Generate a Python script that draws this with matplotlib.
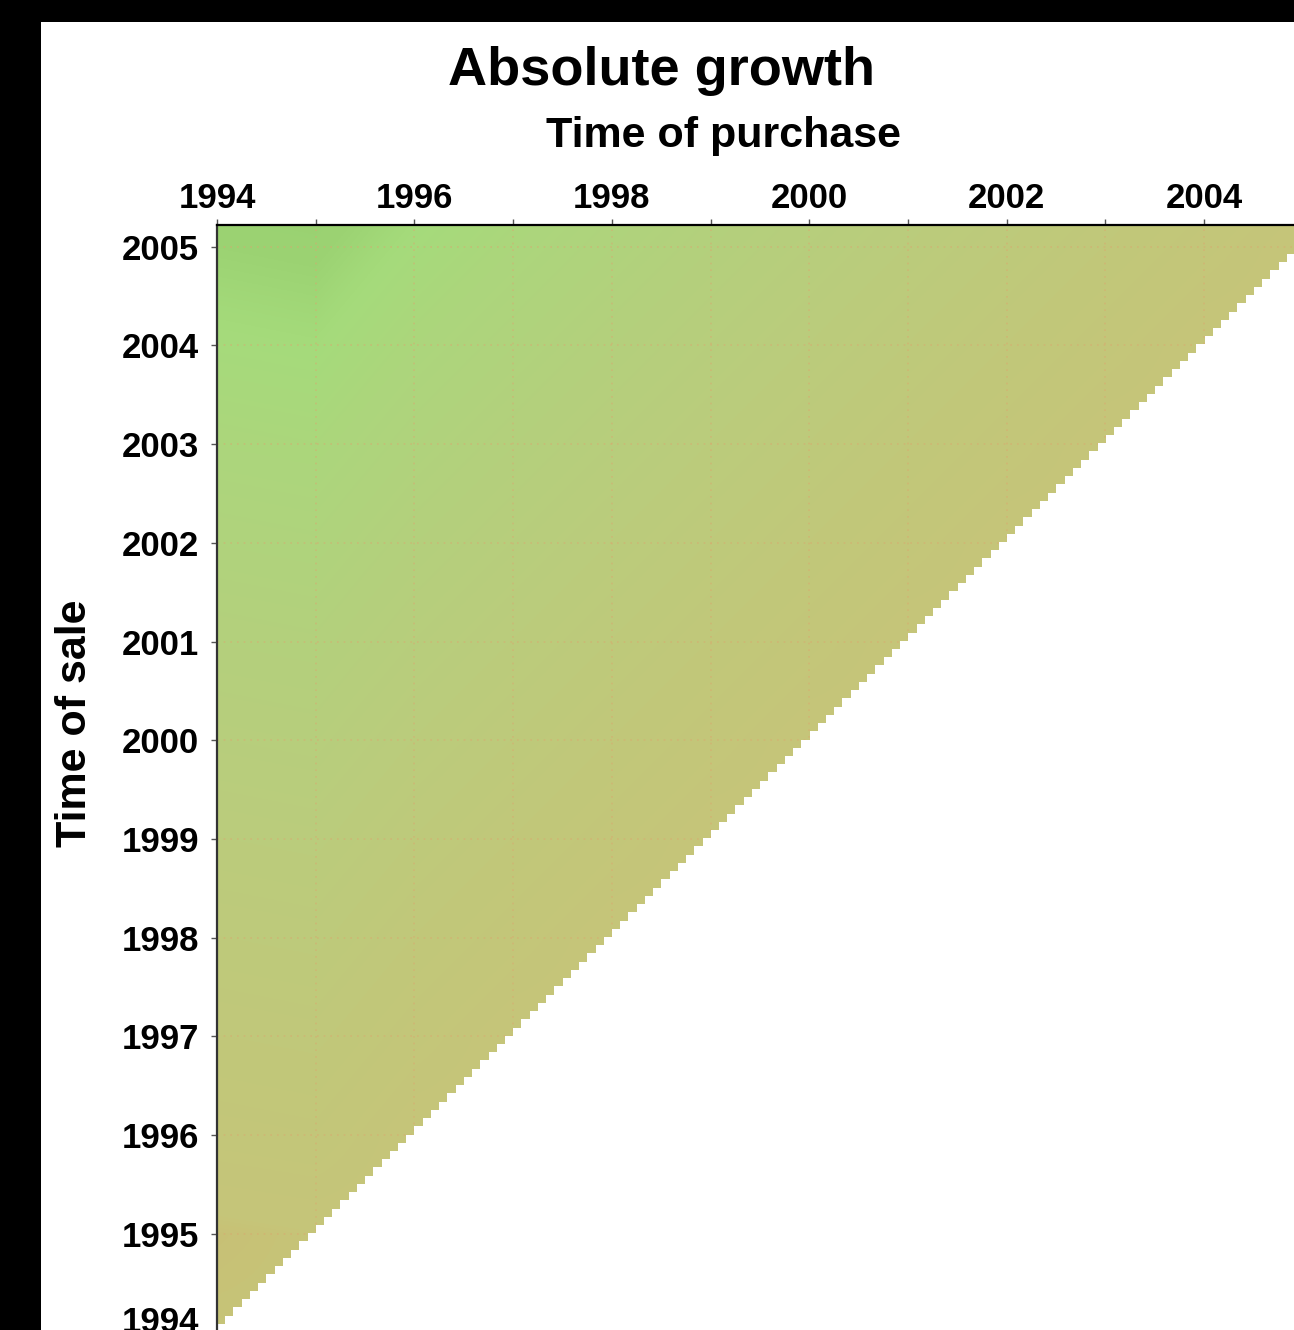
"""
Absolute growth between time of purchase and time of sale,
shown as an upper-triangle heat map on a monthly grid.
Outputs: out.png
"""

import numpy as np
import matplotlib.pyplot as plt
from matplotlib.colors import LinearSegmentedColormap, Normalize
from matplotlib.patches import Rectangle

plt.rcParams.update({
    "font.family": ["Liberation Sans", "DejaVu Sans"],
    "font.weight": "bold",
})

# Price index at the start of each year (purchase / sale reference points)
INDEX_YEARS = np.arange(1994, 2007)
PRICE_INDEX = np.array([100, 99, 105, 110, 115, 120, 125, 130, 135, 140, 145, 150, 155])

# Monthly sale / purchase grid: Jan 1994 .. Mar 2005
T_START, T_END = 1994.0, 2005.25
N_MONTHS = 135
Y_TOP = 2005.22

# Colour ramp: growth level -> colour
GROWTH_LEVELS = [-3, 0, 10, 20, 30, 40, 46, 50, 58]
GROWTH_COLORS = ["#cbb96f", "#c6c579", "#c1c87a", "#bbcc7c", "#b4d07d",
                 "#acd67c", "#a5db7b", "#9cd373", "#96ce6e"]

XTICKS = list(range(1994, 2006, 2))
XTICKS_MINOR = list(range(1995, 2006, 2))
YTICKS = list(range(1994, 2006))

# growth[sale, purchase] = index(sale) - index(purchase); sales before
# purchase are meaningless and get hidden, so keep them neutral
diff = PRICE_INDEX[:, None] - PRICE_INDEX[None, :]
growth = np.where(INDEX_YEARS[:, None] >= INDEX_YEARS[None, :], diff, 0)

lo, hi = GROWTH_LEVELS[0], GROWTH_LEVELS[-1]
cmap = LinearSegmentedColormap.from_list(
    "growth", [((v - lo) / (hi - lo), c) for v, c in zip(GROWTH_LEVELS, GROWTH_COLORS)])
norm = Normalize(vmin=lo, vmax=hi)

# monthly cells with sale not after purchase are blanked out
months = np.arange(N_MONTHS)
blank = months[:, None] <= months[None, :]
blank_rgba = np.ones((N_MONTHS, N_MONTHS, 4))
blank_rgba[..., 3] = blank.astype(float)

W, H = 1294, 1330
fig = plt.figure(figsize=(W / 100, H / 100), dpi=100, facecolor="black")
fig.patches.append(Rectangle((41 / W, 0), 1, (H - 22) / H, transform=fig.transFigure,
                             facecolor="white", edgecolor="none", zorder=-1))

px_per_year = 98.7
ax_w = (T_END - T_START) * px_per_year
ax_h = (Y_TOP - T_START) * px_per_year
ax = fig.add_axes([217 / W, (H - 225 - ax_h) / H, ax_w / W, ax_h / H])

half = 0.5
ax.imshow(growth, origin="lower", cmap=cmap, norm=norm, aspect="auto",
          interpolation="bilinear",
          extent=(INDEX_YEARS[0] - half, INDEX_YEARS[-1] + half,
                  INDEX_YEARS[0] - half, INDEX_YEARS[-1] + half),
          zorder=0)
ax.imshow(blank_rgba, origin="lower", aspect="auto", interpolation="nearest",
          extent=(T_START, T_END, T_START, T_END), zorder=3)

ax.set_xlim(T_START, T_END)
ax.set_ylim(T_START, Y_TOP)

ax.xaxis.tick_top()
ax.set_xticks(XTICKS)
ax.set_xticks(XTICKS_MINOR, minor=True)
ax.set_yticks(YTICKS)
ax.tick_params(axis="both", which="both", direction="out", length=4, width=1,
               color="#555555", labelsize=25)
ax.tick_params(axis="x", which="both", pad=3)
ax.tick_params(axis="y", pad=9)

# lowest label sits on its tick rather than centred below the frame
ax.yaxis.get_major_ticks()[0].label1.set_verticalalignment("baseline")

ax.grid(True, which="both", color="#dca66e", alpha=0.5,
        linestyle=(0, (1, 3)), linewidth=1.2)

for side, sp in ax.spines.items():
    sp.set_linewidth(1.6)
    sp.set_zorder(4)
ax.spines["top"].set_color("black")
ax.spines["left"].set_color("#333333")

fig.text(661 / W, 1 - 85 / H, "Absolute growth", ha="center", va="baseline",
         fontsize=39, fontweight="bold")
fig.text(724 / W, 1 - 147 / H, "Time of purchase", ha="center", va="baseline",
         fontsize=31, fontweight="bold")
fig.text(75 / W, 1 - 723 / H, "Time of sale", ha="center", va="center",
         rotation=90, fontsize=31, fontweight="bold")

fig.savefig("out.png", dpi=100, facecolor=fig.get_facecolor())
